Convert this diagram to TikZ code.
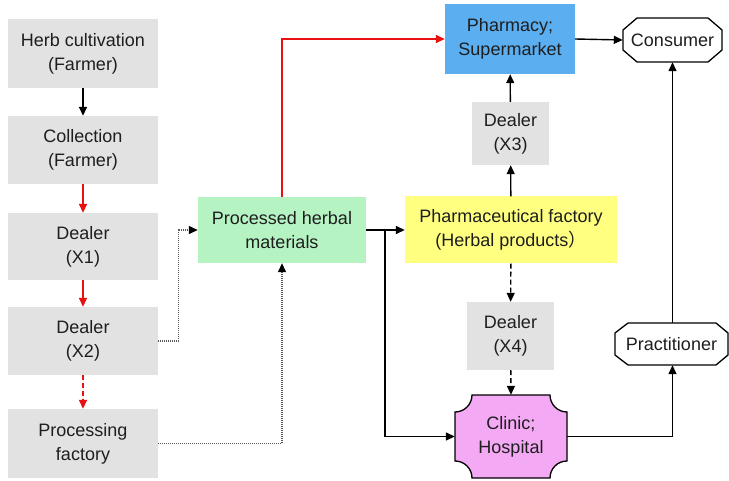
\documentclass[tikz,border=0pt]{standalone}
\usepackage{fontspec}
\setmainfont{Liberation Sans}
\newfontfamily\cjkfont{Noto Sans CJK SC}
\usetikzlibrary{arrows.meta,calc}

\definecolor{boxgray}{HTML}{E2E2E2}
\definecolor{herbgreen}{HTML}{B5F3C3}
\definecolor{shopblue}{HTML}{5BAEF0}
\definecolor{factyellow}{HTML}{FFFF80}
\definecolor{clinicpink}{HTML}{F4A9F4}
\definecolor{inkgray}{HTML}{1E1E1E}
\definecolor{flowred}{HTML}{E81010}

\tikzset{
  box/.style={rectangle, inner sep=0pt, align=center, text=inkgray,
              font=\fontsize{18}{24}\selectfont},
  greybox/.style={box, fill=boxgray},
  tip/.style={-{Triangle[length=9pt,width=8pt]}},
  flow/.style={tip, line width=1.4pt, draw=black},
  redflow/.style={tip, line width=1.4pt, draw=flowred, fill=flowred},
  dotflow/.style={-{Triangle[length=9pt,width=8pt,color=black]},
                  line width=1.3pt, draw=gray!70!black,
                  dash pattern=on 1.2pt off 0.8pt},
  dashflow/.style={tip, line width=1.4pt, dash pattern=on 5pt off 3pt},
  outline/.style={line width=1.3pt, draw=black},
}

\begin{document}
\begin{tikzpicture}[x=1pt,y=-1pt]
\useasboundingbox (0,0) rectangle (729,481);

% supply column on the left
\node[greybox, minimum width=150, minimum height=69] (herb) at (83,53.5)
  {Herb cultivation\\(Farmer)};
\node[greybox, minimum width=150, minimum height=68] (coll) at (83,150)
  {Collection\\(Farmer)};
\node[greybox, minimum width=150, minimum height=67] (dx1) at (83,246.5)
  {Dealer\\(X1)};
\node[greybox, minimum width=150, minimum height=68] (dx2) at (83,341)
  {Dealer\\(X2)};
\node[greybox, minimum width=150, minimum height=69] (proc) at (83,443.5)
  {Processing\\factory};

% processed materials and downstream outlets
\node[box, fill=herbgreen, minimum width=168, minimum height=66] (pherb) at (282,230)
  {Processed herbal\\materials};
\node[box, fill=shopblue, minimum width=130, minimum height=70] (pharm) at (510,39)
  {Pharmacy;\\Supermarket};
\node[greybox, minimum width=77, minimum height=63] (dx3) at (510.5,133.5)
  {Dealer\\(X3)};
\node[box, fill=factyellow, minimum width=212, minimum height=67] (fact) at (511,230)
  {Pharmaceutical factory\\(Herbal products{\cjkfont ）}};
\node[greybox, minimum width=87, minimum height=68] (dx4) at (510.5,336)
  {Dealer\\(X4)};

% clinic outline: rectangle with concave rounded corners
\fill[clinicpink] (472,395) -- (550,395)
  .. controls (550,404.4) and (557.6,412) .. (567,412) -- (567,461)
  .. controls (557.6,461) and (550,468.6) .. (550,478) -- (472,478)
  .. controls (472,468.6) and (464.4,461) .. (455,461) -- (455,412)
  .. controls (464.4,412) and (472,404.4) .. (472,395) -- cycle;
\draw[outline] (472,395) -- (550,395)
  .. controls (550,404.4) and (557.6,412) .. (567,412) -- (567,461)
  .. controls (557.6,461) and (550,468.6) .. (550,478) -- (472,478)
  .. controls (472,468.6) and (464.4,461) .. (455,461) -- (455,412)
  .. controls (464.4,412) and (472,404.4) .. (472,395) -- cycle;
\node[box, minimum width=112, minimum height=83] (clinic) at (511,436.5)
  {Clinic;\\Hospital};

% octagonal end points
\draw[outline, fill=white] (637,18) -- (708,18) -- (722,30) -- (722,50)
  -- (708,62) -- (637,62) -- (623,50) -- (623,30) -- cycle;
\node[box, minimum width=99, minimum height=44] (cons) at (672.5,40) {Consumer};
\draw[outline, fill=white] (628,323) -- (716,323) -- (728,333) -- (728,355)
  -- (716,365) -- (628,365) -- (615,355) -- (615,333) -- cycle;
\node[box, minimum width=113, minimum height=42] (prac) at (671.5,344) {Practitioner};

% connectors
\draw[flow] (herb) -- (coll);
\draw[redflow] (coll) -- (dx1);
\draw[redflow] (dx1) -- (dx2);
\draw[redflow, dash pattern=on 5pt off 3pt] (dx2) -- (proc);

\draw[dotflow] (dx2.east) -- ++(20,0) |- (pherb.west);
\draw[dotflow] (proc.east) -| (pherb.south);

\draw[redflow, fill=none] (pherb.north) |- (pharm.west);

\coordinate (split) at (385,230);
\draw[flow] (pherb.east) -- (fact.west);
\draw[flow] (split) |- (clinic.west);

\draw[flow] (fact) -- (dx3);
\draw[flow] (dx3) -- (pharm);
\draw[dashflow] (fact) -- (dx4);
\draw[dashflow] (dx4) -- (clinic.north);

\draw[flow] (pharm.east) -- (cons.west);
\draw[flow] (clinic.east) -| (cons.south |- prac.south);
\draw[flow] (cons.south |- prac.north) -- (cons.south);
\end{tikzpicture}
\end{document}
